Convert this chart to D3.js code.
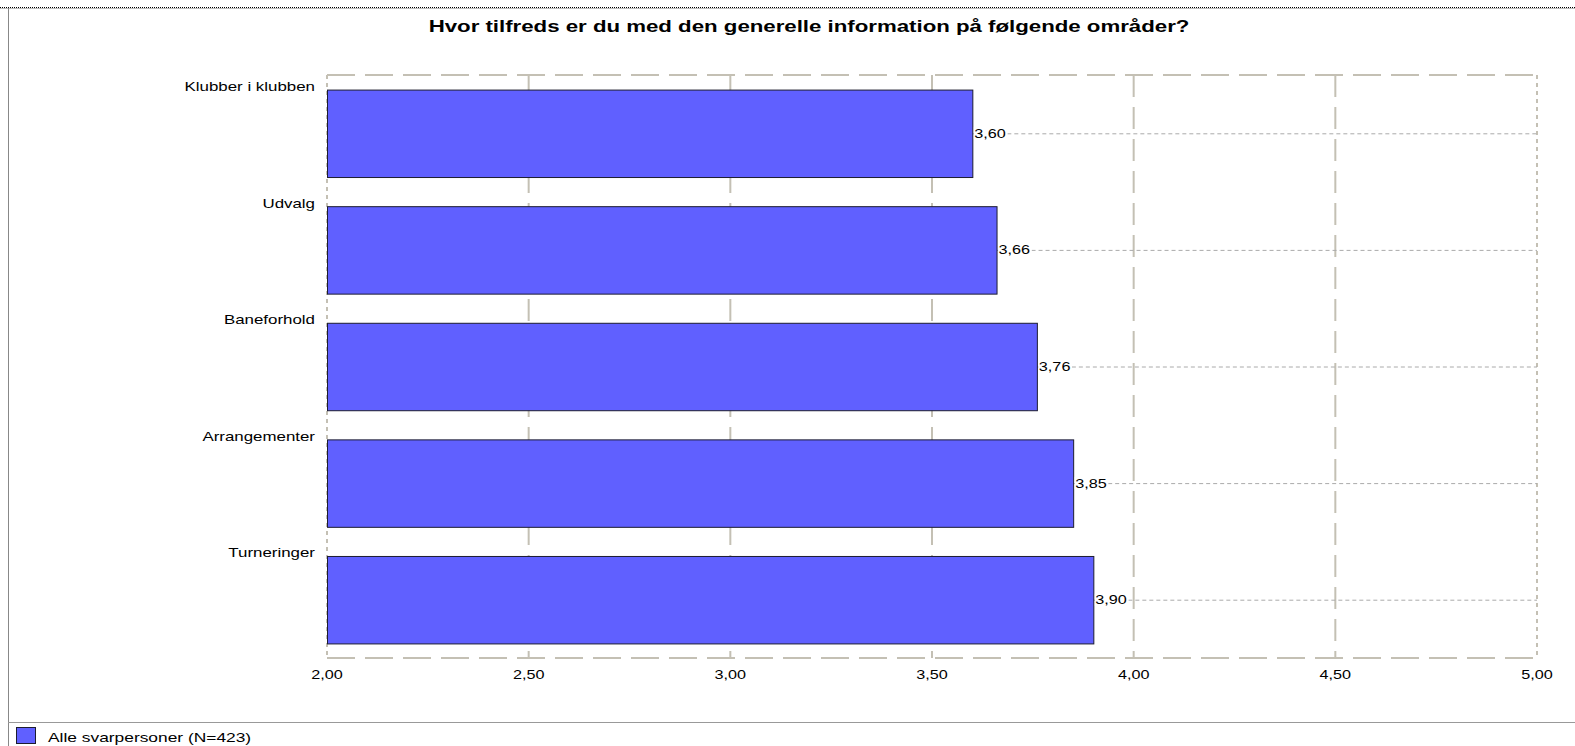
<!DOCTYPE html>
<html>
<head>
<meta charset="utf-8">
<script src="https://cdn.jsdelivr.net/npm/d3@7/dist/d3.min.js"></script>
<style>
  html, body { margin: 0; padding: 0; background: #fff; }
  svg { display: block; }
  text { font-family: "Liberation Sans", Arial, sans-serif; fill: #000; }
</style>
</head>
<body>
<svg id="chart" width="1575" height="746"></svg>
<script>
const title = "Hvor tilfreds er du med den generelle information på følgende områder?";
const categories = ["Klubber i klubben", "Udvalg", "Baneforhold", "Arrangementer", "Turneringer"];
const values = [3.60, 3.66, 3.76, 3.85, 3.90];
const tickValues = [2.0, 2.5, 3.0, 3.5, 4.0, 4.5, 5.0];
const seriesName = "Alle svarpersoner (N=423)";

const W = 1575, H = 746;
const plot = { left: 327, right: 1537, top: 75, bottom: 658 };
const stretch = 1.34; // horizontal glyph stretch seen in the reference
const gridColor = "#c4c0b4";
const barFill = "#6060ff";

const svg = d3.select("#chart");
const fmt = v => d3.format(".2f")(v).replace(".", ",");

const x = d3.scaleLinear().domain([2, 5]).range([plot.left, plot.right]);
const y = d3.scaleBand().domain(categories).range([plot.top, plot.bottom])
  .paddingInner(0.25).paddingOuter(0.125);

function stext(g, tx, ty, str, size, anchor, weight, sx) {
  return g.append("text")
    .attr("transform", `translate(${tx},${ty}) scale(${sx || stretch},1)`)
    .attr("text-anchor", anchor || "start")
    .attr("font-size", size)
    .attr("font-weight", weight || "normal")
    .text(str);
}

// outer frame
svg.append("line").attr("x1", 0).attr("x2", W).attr("y1", 7.5).attr("y2", 7.5)
  .attr("stroke", "#000").attr("stroke-dasharray", "1,1");
svg.append("line").attr("x1", 0).attr("x2", W).attr("y1", 8.5).attr("y2", 8.5)
  .attr("stroke", "#bbb");
svg.append("line").attr("x1", 8.5).attr("x2", 8.5).attr("y1", 8).attr("y2", H)
  .attr("stroke", "#888");

// title
stext(svg, 809, 31.5, title, 16, "middle", "bold", 1.39);

// vertical grid lines (long dashes)
const gridG = svg.append("g");
gridG.selectAll("line.vgrid")
  .data(tickValues.filter(t => t > 2 && t < 5))
  .join("line")
  .attr("x1", d => x(d)).attr("x2", d => x(d))
  .attr("y1", plot.top).attr("y2", plot.bottom)
  .attr("stroke", gridColor).attr("stroke-width", 2)
  .attr("stroke-dasharray", "22,10");

// top & bottom plot borders (long dashes)
[plot.top, plot.bottom].forEach(yy => {
  gridG.append("line")
    .attr("x1", plot.left).attr("x2", plot.right)
    .attr("y1", yy).attr("y2", yy)
    .attr("stroke", gridColor).attr("stroke-width", 2)
    .attr("stroke-dasharray", "28,10");
});
// left & right plot borders (short dashes)
[plot.left, plot.right].forEach(xx => {
  gridG.append("line")
    .attr("x1", xx).attr("x2", xx)
    .attr("y1", plot.top).attr("y2", plot.bottom)
    .attr("stroke", gridColor).attr("stroke-width", 2)
    .attr("stroke-dasharray", "4,4");
});

// horizontal dotted value lines at bar centers
gridG.selectAll("line.hgrid")
  .data(categories)
  .join("line")
  .attr("x1", (d, i) => x(values[i])).attr("x2", plot.right)
  .attr("y1", d => y(d) + y.bandwidth() / 2 + 0.5)
  .attr("y2", d => y(d) + y.bandwidth() / 2 + 0.5)
  .attr("stroke", "#aaa").attr("stroke-width", 1)
  .attr("stroke-dasharray", "4,3");

// bars
svg.append("g").selectAll("rect")
  .data(categories)
  .join("rect")
  .attr("x", x(2) + 0.5)
  .attr("y", d => y(d) + 0.5)
  .attr("width", (d, i) => x(values[i]) - x(2))
  .attr("height", y.bandwidth())
  .attr("fill", barFill)
  .attr("stroke", "#1c1c30").attr("stroke-width", 1);

// value labels with white background
const valG = svg.append("g");
categories.forEach((c, i) => {
  const cy = y(c) + y.bandwidth() / 2;
  const t = stext(valG, x(values[i]) + 2, cy + 4.5, fmt(values[i]), 12, "start", "normal", 1.35);
  const bb = t.node().getBBox();
  valG.insert("rect", "text")
    .attr("x", x(values[i]) + 1.5).attr("y", cy - 6)
    .attr("width", bb.width * 1.35 + 2).attr("height", 12)
    .attr("fill", "#fff");
});

// category labels
const catG = svg.append("g");
categories.forEach(c => {
  stext(catG, plot.left - 12, y(c) + 1.5, c, 13, "end", "normal", 1.3);
});

// x axis tick labels
const tickG = svg.append("g");
tickValues.forEach(t => {
  stext(tickG, x(t), 679, fmt(t), 12, "middle", "normal", 1.35);
});

// legend
svg.append("line").attr("x1", 8).attr("x2", W).attr("y1", 722.5).attr("y2", 722.5)
  .attr("stroke", "#999");
svg.append("rect").attr("x", 16.5).attr("y", 727.5).attr("width", 19).attr("height", 16)
  .attr("fill", barFill).attr("stroke", "#1c1c30");
stext(svg, 48, 741.5, seriesName, 12.5, "start", "normal", 1.39);
</script>
</body>
</html>
